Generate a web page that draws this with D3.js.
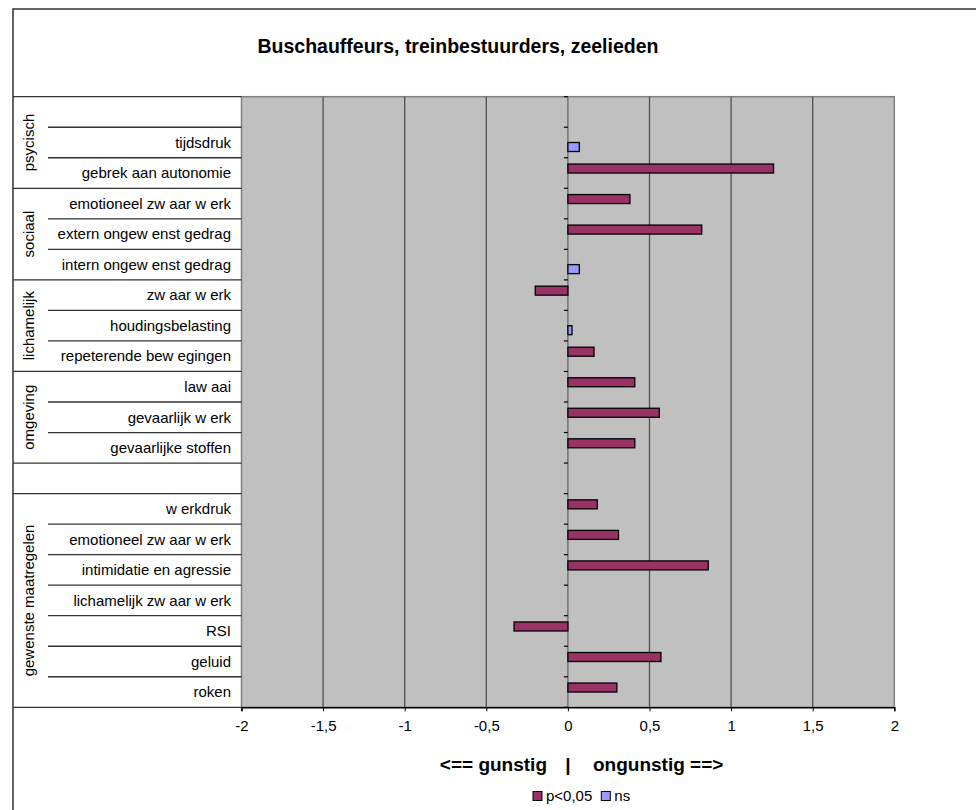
<!DOCTYPE html>
<html>
<head>
<meta charset="utf-8">
<script src="https://cdn.jsdelivr.net/npm/d3@7/dist/d3.min.js"></script>
<style>
  body { margin: 0; background: #fff; }
  text { font-family: "Liberation Sans", Arial, sans-serif; fill: #000; }
</style>
</head>
<body>
<div id="chart-area"></div>
<script>

// Data (top to bottom), empty strings are blank rows
var categories = ["", "tijdsdruk", "gebrek aan autonomie",
    "emotioneel zw aar w erk", "extern ongew enst gedrag", "intern ongew enst gedrag",
    "zw aar w erk", "houdingsbelasting", "repeterende bew egingen",
    "law aai", "gevaarlijk w erk", "gevaarlijke stoffen",
    "",
    "w erkdruk", "emotioneel zw aar w erk", "intimidatie en agressie",
    "lichamelijk zw aar w erk", "RSI", "geluid", "roken"];

// significant (p<0,05)
var pValues = [null, null, 1.26,
    0.38, 0.82, null,
    -0.20, null, 0.16,
    0.41, 0.56, 0.41,
    null,
    0.18, 0.31, 0.86, null, -0.33, 0.57, 0.30];

// not significant
var nsValues = [null, 0.07, null,
    null, null, 0.07,
    null, 0.025, null,
    null, null, null,
    null,
    null, null, null, null, null, null, null];

var groupNames = ["psycisch", "sociaal", "lichamelijk", "omgeving", "", "gewenste maatregelen"];
var groupSizes = [3, 3, 3, 3, 1, 7];

var xTicks = [-2, -1.5, -1, -0.5, 0, 0.5, 1, 1.5, 2];
var seriesNames = ["p<0,05", "ns"];
var seriesColors = ["#993366", "#9999FF"];

var width = 976,
    height = 810;

var plot = {left: 241.5, right: 894.3, top: 96.7, bottom: 707.3};

var svg = d3.select("#chart-area").append("svg")
    .attr("width", width)
    .attr("height", height);

// outer chart frame
svg.append("rect")
    .attr("x", 13).attr("y", 9)
    .attr("width", 1000).attr("height", 1000)
    .attr("fill", "#fff")
    .attr("stroke", "#333")
    .attr("stroke-width", 1.5);

// Scales
var x = d3.scaleLinear().domain([-2, 2]).range([plot.left, plot.right]);

var y = d3.scaleBand()
    .domain(d3.range(categories.length))
    .range([plot.top, plot.bottom])
    .paddingInner(0).paddingOuter(0);

var ySeries = d3.scaleBand()
    .domain(seriesNames)
    .range([0, y.bandwidth()])
    .paddingInner(0)
    .paddingOuter(0.695);

// plot background
svg.append("rect")
    .attr("x", plot.left).attr("y", plot.top)
    .attr("width", plot.right - plot.left)
    .attr("height", plot.bottom - plot.top)
    .attr("fill", "#C0C0C0")
    .attr("stroke", "#808080")
    .attr("stroke-width", 1.5);

// vertical gridlines
svg.selectAll(".grid")
    .data(xTicks.slice(1, -1))
    .enter().append("line")
    .attr("class", "grid")
    .attr("x1", function(d) { return x(d); })
    .attr("x2", function(d) { return x(d); })
    .attr("y1", plot.top)
    .attr("y2", plot.bottom)
    .attr("stroke", function(d) { return d === 0 ? "#666" : "#505050"; })
    .attr("stroke-width", 1.3);

// x axis
var xAxis = d3.axisBottom(x)
    .tickValues(xTicks)
    .tickSize(4)
    .tickPadding(9)
    .tickFormat(function(d) { return String(d).replace(".", ","); });

var gx = svg.append("g")
    .attr("transform", "translate(0," + plot.bottom + ")")
    .call(xAxis);
gx.select(".domain").attr("stroke", "#000").attr("stroke-width", 1.5);
gx.selectAll(".tick line").attr("stroke", "#000");
gx.selectAll(".tick text")
    .style("font-family", "'Liberation Sans', Arial, sans-serif")
    .style("font-size", "15px")
    .attr("fill", "#000");

// category tick marks on the zero line (at row boundaries)
var boundaries = d3.range(categories.length + 1).map(function(i) { return plot.top + i * y.step(); });
svg.selectAll(".ctick")
    .data(boundaries)
    .enter().append("line")
    .attr("class", "ctick")
    .attr("x1", x(0) - 4)
    .attr("x2", x(0))
    .attr("y1", function(d) { return d; })
    .attr("y2", function(d) { return d; })
    .attr("stroke", "#000")
    .attr("stroke-width", 1.2);

// Bars
function drawSeries(values, name, color) {
    var data = values.map(function(v, i) { return {i: i, v: v}; })
        .filter(function(d) { return d.v !== null; });
    svg.selectAll(".bar-" + seriesNames.indexOf(name))
        .data(data)
        .enter().append("rect")
        .attr("class", "bar-" + seriesNames.indexOf(name))
        .attr("x", function(d) { return Math.min(x(0), x(d.v)); })
        .attr("y", function(d) { return y(d.i) + ySeries(name); })
        .attr("width", function(d) { return Math.abs(x(d.v) - x(0)); })
        .attr("height", ySeries.bandwidth())
        .attr("fill", color)
        .attr("stroke", "#000")
        .attr("stroke-width", 1.3);
}
drawSeries(pValues, seriesNames[0], seriesColors[0]);
drawSeries(nsValues, seriesNames[1], seriesColors[1]);

// label table: row lines
var groupStart = [];
var acc = 0;
groupSizes.forEach(function(s) { groupStart.push(acc); acc += s; });

svg.selectAll(".rowline")
    .data(boundaries)
    .enter().append("line")
    .attr("class", "rowline")
    .attr("x1", function(d, i) {
        return (groupStart.indexOf(i) >= 0 || i === categories.length) ? 13 : 48;
    })
    .attr("x2", plot.left)
    .attr("y1", function(d) { return d; })
    .attr("y2", function(d) { return d; })
    .attr("stroke", "#333")
    .attr("stroke-width", 1.3);

// category labels
svg.selectAll(".clabel")
    .data(categories)
    .enter().append("text")
    .attr("class", "clabel")
    .attr("x", 231)
    .attr("y", function(d, i) { return y(i) + y.bandwidth() / 2; })
    .attr("dy", "0.35em")
    .attr("text-anchor", "end")
    .style("font-size", "15px")
    .text(function(d) { return d; });

// group labels (rotated)
svg.selectAll(".glabel")
    .data(groupNames)
    .enter().append("text")
    .attr("class", "glabel")
    .attr("transform", function(d, i) {
        var cy = plot.top + (groupStart[i] + groupSizes[i] / 2) * y.step();
        return "translate(29," + cy + ") rotate(-90)";
    })
    .attr("dy", "0.35em")
    .attr("text-anchor", "middle")
    .style("font-size", "15px")
    .text(function(d) { return d; });

// title
svg.append("text")
    .attr("x", 458)
    .attr("y", 46)
    .attr("dy", "0.35em")
    .attr("text-anchor", "middle")
    .style("font-size", "19.5px")
    .style("font-weight", "bold")
    .text("Buschauffeurs, treinbestuurders, zeelieden");

// axis title
var axTitle = svg.append("g").attr("transform", "translate(0,764)")
    .style("font-size", "19px")
    .style("font-weight", "bold");
axTitle.append("text").attr("x", 547).attr("text-anchor", "end").attr("dy", "0.35em").text("<== gunstig");
axTitle.append("text").attr("x", x(0)).attr("text-anchor", "middle").attr("dy", "0.35em").text("|");
axTitle.append("text").attr("x", 593).attr("text-anchor", "start").attr("dy", "0.35em").text("ongunstig ==>");

// legend
var legend = svg.append("g").attr("transform", "translate(533,796)");
var lx = 0;
seriesNames.forEach(function(name, i) {
    var item = legend.append("g").attr("transform", "translate(" + lx + ",0)");
    item.append("rect")
        .attr("x", 0).attr("y", -4.5)
        .attr("width", 9).attr("height", 9)
        .attr("fill", seriesColors[i])
        .attr("stroke", "#000");
    var t = item.append("text")
        .attr("x", 13)
        .attr("dy", "0.35em")
        .style("font-size", "15px")
        .text(name);
    lx += 13 + t.node().getComputedTextLength() + 9;
});

</script>
</body>
</html>
